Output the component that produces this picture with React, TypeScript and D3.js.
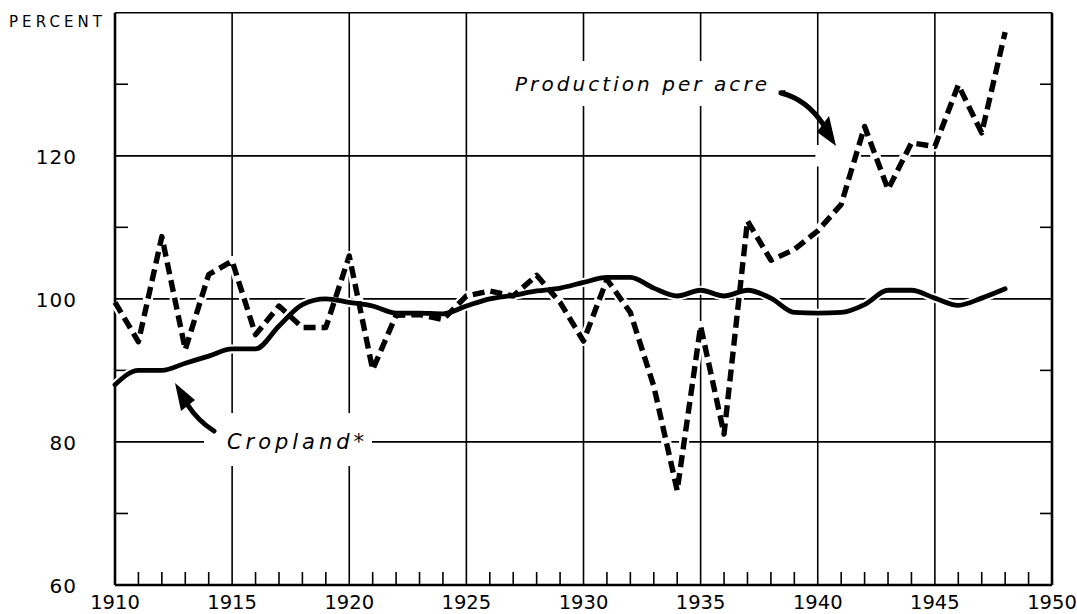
import React from "react";
import * as d3 from "d3";

const years = [1910,1911,1912,1913,1914,1915,1916,1917,1918,1919,1920,1921,1922,1923,1924,1925,1926,1927,1928,1929,1930,1931,1932,1933,1934,1935,1936,1937,1938,1939,1940,1941,1942,1943,1944,1945,1946,1947,1948];
const cropland = [88,90,90,91,92,93,93,96.2,99.2,100,99.5,99,98,98,97.9,99,100,100.5,101.1,101.5,102.3,103,103,101.5,100.4,101.2,100.4,101.2,100.1,98.1,98,98.1,99.2,101.2,101.2,100.1,99.1,100.1,101.4];
const production = [99.5,94,108.7,92.9,103.4,105.3,95,99,96,96,106,90.1,97.7,97.8,97.1,100.4,101.1,100.4,103.3,99.5,94.1,102.7,98.1,87.8,73.2,96.2,81.1,110.9,105.4,106.9,109.5,113.2,124.1,115.3,121.8,121.3,129.9,123.2,137.3];
const xTickLabels = [1910,1915,1920,1925,1930,1935,1940,1945,1950];
const yTickLabels = [60,80,100,120];
const yMinorTicks = [70,90,110,130];
const gridYears = [1915,1920,1925,1930,1935,1940,1945];
const gridValues = [80,100,120];

const W = 1077, H = 614;
const FONT = "'DejaVu Sans', sans-serif";

export default function App() {
  const x = d3.scaleLinear().domain([1910, 1950]).range([115, 1052]);
  const y = d3.scaleLinear().domain([60, 140]).range([585, 12.7]);
  const x0 = x(1910), x1 = x(1950), yTop = y(140), yBot = y(60);

  const cropLine = d3.line<number>().x((_, i) => x(years[i])).y(d => y(d)).curve(d3.curveMonotoneX);
  const prodLine = d3.line<number>().x((_, i) => x(years[i])).y(d => y(d)).curve(d3.curveLinear);
  const cropPath = cropLine(cropland) || "";
  const prodPath = prodLine(production) || "";
  const minorYears = d3.range(1911, 1950).filter(v => v % 5 !== 0);

  return (
    <svg width={W} height={H} style={{ position: "absolute", left: 0, top: 0, background: "#fff" }}>
      <rect x={0} y={0} width={W} height={H} fill="#fff" />
      {gridYears.map(v => (
        <line key={"gv" + v} x1={x(v)} x2={x(v)} y1={yTop} y2={yBot} stroke="#000" strokeWidth={1.6} />
      ))}
      {gridValues.map(v => (
        <line key={"gh" + v} x1={x0} x2={x1} y1={y(v)} y2={y(v)} stroke="#000" strokeWidth={1.8} />
      ))}
      {minorYears.map(v => (
        <line key={"mx" + v} x1={x(v)} x2={x(v)} y1={yBot} y2={yBot - 13} stroke="#000" strokeWidth={1.6} />
      ))}
      {yMinorTicks.map(v => (
        <g key={"my" + v}>
          <line x1={x0} x2={x0 + 13} y1={y(v)} y2={y(v)} stroke="#000" strokeWidth={1.6} />
          <line x1={x1} x2={x1 - 12} y1={y(v)} y2={y(v)} stroke="#000" strokeWidth={1.6} />
        </g>
      ))}
      <rect x={508} y={61} width={264} height={45} fill="#fff" />
      <rect x={204} y={413} width={168} height={53} fill="#fff" />
      <rect x={x(1939.9)} y={y(121.5)} width={x(1941.8) - x(1939.9)} height={y(118.5) - y(121.5)} fill="#fff" />

      <line x1={x0} x2={x1} y1={yTop} y2={yTop} stroke="#000" strokeWidth={1.6} />
      <line x1={x0} x2={x0} y1={yTop} y2={yBot} stroke="#000" strokeWidth={2.6} />
      <line x1={x1} x2={x1} y1={yTop} y2={yBot} stroke="#000" strokeWidth={2.6} />
      <line x1={x0} x2={x1} y1={yBot} y2={yBot} stroke="#000" strokeWidth={2.6} />

      <path d={prodPath} fill="none" stroke="#fff" strokeWidth={10} strokeLinejoin="round" />
      <path d={cropPath} fill="none" stroke="#fff" strokeWidth={9} strokeLinejoin="round" />
      <path d={cropPath} fill="none" stroke="#000" strokeWidth={4.8} strokeLinejoin="round" strokeLinecap="round" />
      <path d={prodPath} fill="none" stroke="#000" strokeWidth={5.4} strokeDasharray="12 6" strokeLinejoin="round" />

      <text x={515} y={91} fontFamily={FONT} fontStyle="italic" fontSize={20} textLength={252} lengthAdjust="spacing" fill="#000">Production per acre</text>
      <text x={227} y={449} fontFamily={FONT} fontStyle="italic" fontSize={21} textLength={137} lengthAdjust="spacing" fill="#000">Cropland*</text>

      <path d="M781,93 Q806,99 823,124" fill="none" stroke="#000" strokeWidth={5} strokeLinecap="round" />
      <path d="M778,91 L785,90 L787,97 Z" fill="#000" />
      <path d="M836,146 L817,132 L829,116 Z" fill="#000" />
      <path d="M214,431 Q198,421 187,404" fill="none" stroke="#000" strokeWidth={5} strokeLinecap="round" />
      <path d="M175,383 L181,411 L195,400 Z" fill="#000" />

      <text x={9} y={27} fontFamily={FONT} fontSize={15} textLength={93} lengthAdjust="spacing" fill="#000">PERCENT</text>
      {yTickLabels.map(v => (
        <text key={"yl" + v} x={77} y={y(v) + 8} textAnchor="end" fontFamily={FONT} fontSize={20} letterSpacing={1} fill="#000">{v}</text>
      ))}
      {xTickLabels.map(v => (
        <text key={"xl" + v} x={x(v)} y={609} textAnchor="middle" fontFamily={FONT} fontSize={19.5} fill="#000">{v}</text>
      ))}
    </svg>
  );
}
